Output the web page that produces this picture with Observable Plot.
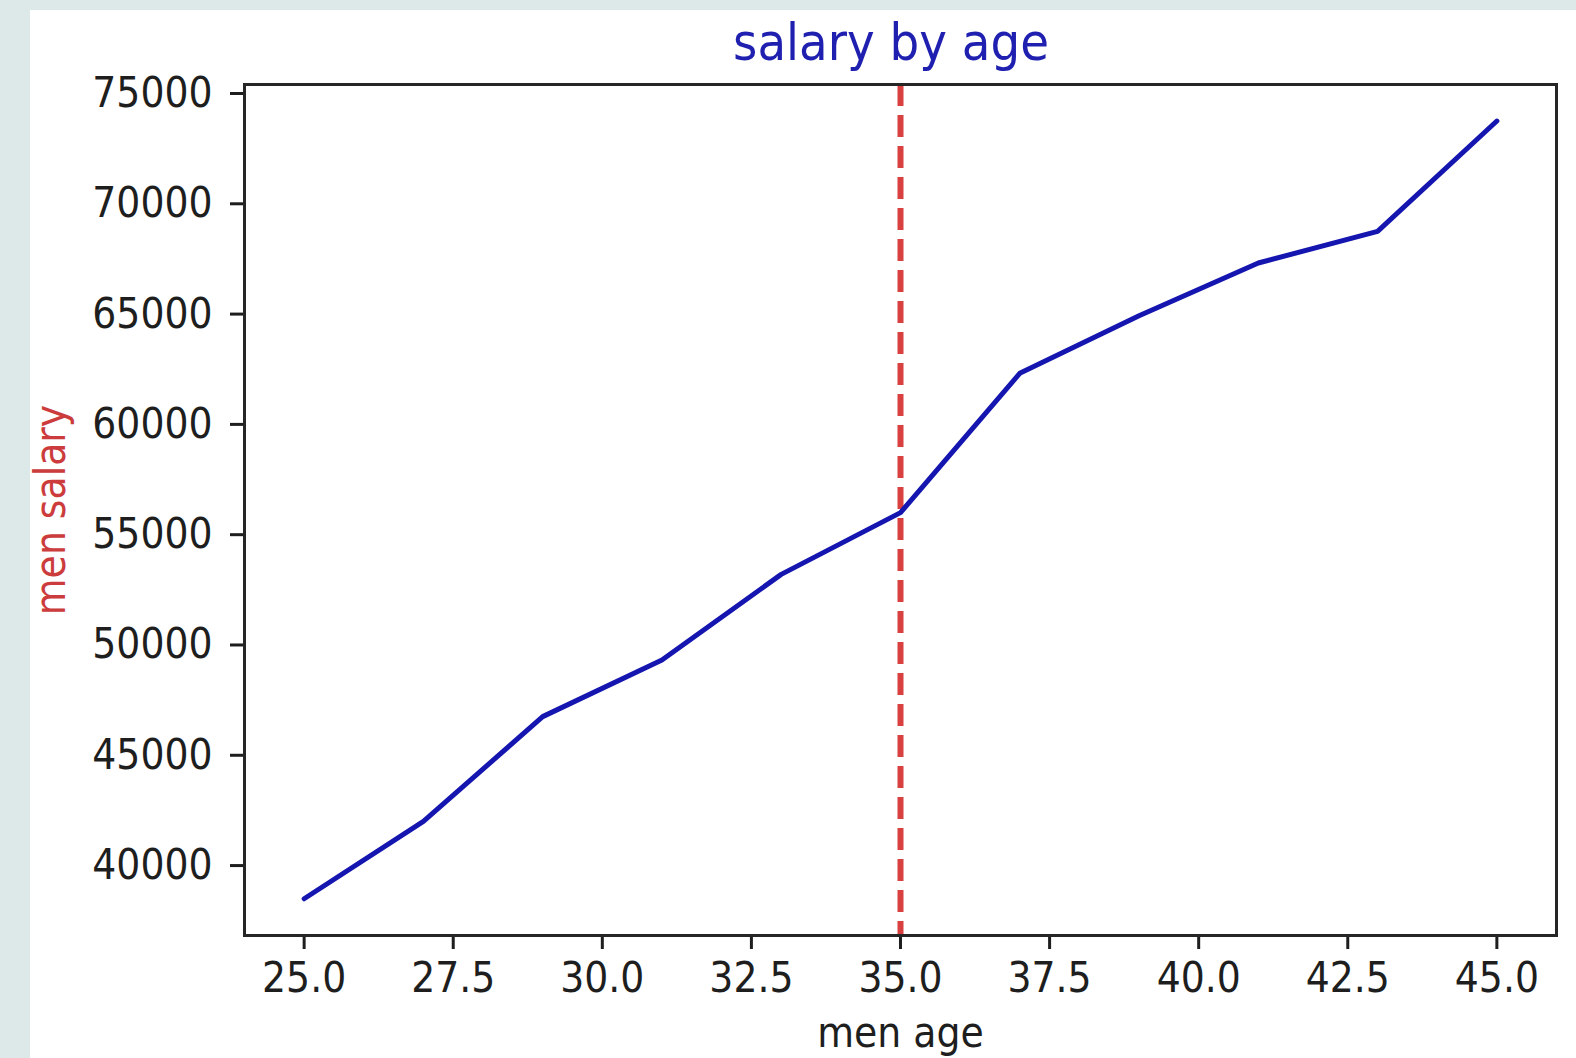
<!DOCTYPE html>
<html>
<head>
<meta charset="utf-8">
<script src="https://cdn.jsdelivr.net/npm/d3@7"></script>
<script src="https://cdn.jsdelivr.net/npm/@observablehq/plot@0.6"></script>
<style>
  html, body { margin: 0; padding: 0; }
  body { width: 1576px; height: 1058px; background: #dde9e9; position: relative; overflow: hidden; }
  #panel { position: absolute; left: 30px; top: 10px; width: 1546px; height: 1048px; background: #ffffff; }
  #title { position: absolute; left: 0; top: 2px; width: 1546px; height: 60px; text-align: center;
           font-family: "DejaVu Sans Condensed", "DejaVu Sans", sans-serif; font-size: 52px; line-height: 60px;
           color: #1f1fb0; padding-left: 176px; box-sizing: border-box; }
  #chart { position: absolute; left: 0; top: 60px; }
</style>
</head>
<body>
<div id="panel">
  <div id="title">salary by age</div>
  <div id="chart"></div>
</div>
<script>
const ages = [25, 27, 29, 31, 33, 35, 37, 39, 41, 43, 45];
const salaries = [38496, 42000, 46752, 49320, 53200, 56000, 62316, 64928, 67317, 68748, 73752];
const xTicks = [25, 27.5, 30, 32.5, 35, 37.5, 40, 42.5, 45];
const yTicks = [40000, 45000, 50000, 55000, 60000, 65000, 70000, 75000];
const markerAge = [35];
const xLabel = "men age";
const yLabel = "men salary";

const data = ages.map((a, i) => ({age: a, salary: salaries[i]}));

const chart = Plot.plot({
  width: 1546,
  height: 988,
  marginTop: 14,
  marginBottom: 123,
  marginLeft: 214,
  marginRight: 20,
  style: {fontFamily: "'DejaVu Sans Condensed', 'DejaVu Sans', sans-serif", fontSize: "42px", color: "#1e1e1e", background: "transparent", overflow: "visible"},
  x: {domain: [24, 46]},
  y: {domain: [36830, 75408]},
  marks: [
    Plot.axisX({ticks: xTicks, tickFormat: d3.format(".1f"), tickSize: 14, tickPadding: 13, strokeWidth: 3,
                label: xLabel, labelAnchor: "center", labelArrow: "none", labelOffset: 111}),
    Plot.axisY({ticks: yTicks, tickFormat: d3.format("d"), tickSize: 14, tickPadding: 18, strokeWidth: 3,
                label: yLabel, labelAnchor: "center", labelArrow: "none", labelOffset: 209}),
    Plot.ruleX(markerAge, {stroke: "#d94040", strokeWidth: 6, strokeDasharray: "22,9"}),
    Plot.lineY(data, {x: "age", y: "salary", stroke: "#1515b0", strokeWidth: 5}),
    Plot.frame({stroke: "#262626", strokeWidth: 3})
  ]
});
document.getElementById("chart").appendChild(chart);
// colour the y label red
chart.querySelectorAll("g[aria-label='y-axis label'] text").forEach(t => t.setAttribute("fill", "#cc3c3c"));
</script>
</body>
</html>
